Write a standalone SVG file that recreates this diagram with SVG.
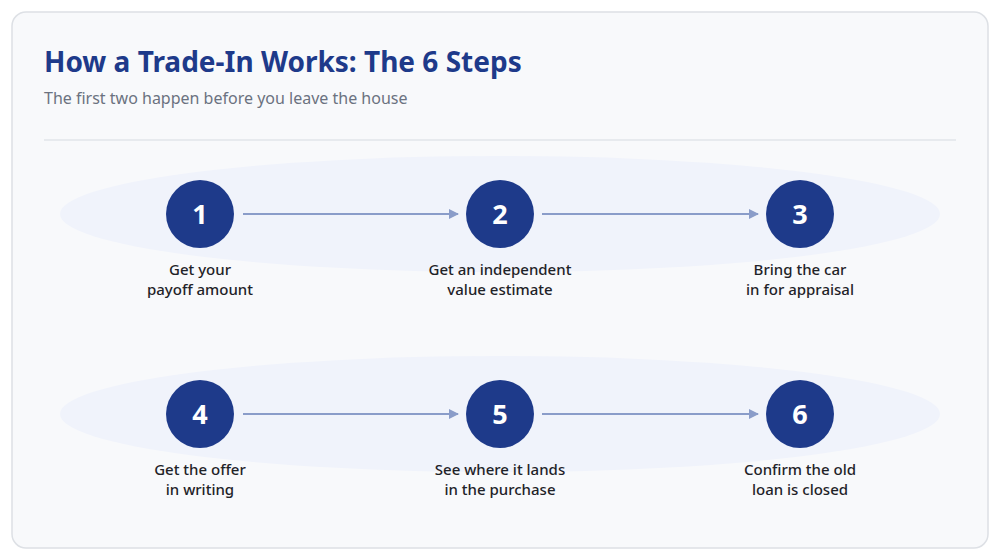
<svg xmlns="http://www.w3.org/2000/svg" width="1000" height="560" viewBox="0 0 1000 560">
<style>
.title{font-family:"Noto Sans","Open Sans",sans-serif;font-weight:700;font-size:28px;fill:#1e3a8a}
.sub{font-family:"Noto Sans","Open Sans",sans-serif;font-size:16px;fill:#6b7280}
.band{fill:#f0f3fb}
.dot{fill:#1e3a8a}
.num{font-family:"Noto Sans","Open Sans",sans-serif;font-weight:700;font-size:27px;fill:#ffffff;text-anchor:middle}
.lbl{font-family:"Noto Sans","Open Sans",sans-serif;font-weight:500;font-size:15px;fill:#1f2328;text-anchor:middle}
.conn{stroke:#8a9cc9;stroke-width:2;fill:none;marker-end:url(#ah)}
</style>
<defs>
<marker id="ah" viewBox="0 0 10 10" refX="9" refY="5" markerWidth="5" markerHeight="5" orient="auto" markerUnits="strokeWidth">
<path d="M0,0 L10,5 L0,10 z" fill="#8a9cc9"/>
</marker>
</defs>
<rect x="12" y="12" width="976" height="536" rx="14" fill="#f8f9fb" stroke="#dde0e5" stroke-width="1.5"/>
<text class="title" x="44" y="72">How a Trade-In Works: The 6 Steps</text>
<text class="sub" x="44" y="104">The first two happen before you leave the house</text>
<line x1="44" y1="140" x2="956" y2="140" stroke="#e2e5ea" stroke-width="1.5"/>
<ellipse class="band" cx="500" cy="214" rx="440" ry="58"/>
<ellipse class="band" cx="500" cy="414" rx="440" ry="58"/>
<g id="connectors">
<line class="conn" x1="243" y1="214" x2="458" y2="214"/>
<line class="conn" x1="542" y1="214" x2="758" y2="214"/>
<line class="conn" x1="243" y1="414" x2="458" y2="414"/>
<line class="conn" x1="542" y1="414" x2="758" y2="414"/>
</g>
<g id="step1"><circle class="dot" cx="200" cy="214" r="34"/><text class="num" x="200" y="224">1</text><text class="lbl" x="200" y="275">Get your</text><text class="lbl" x="200" y="295">payoff amount</text></g>
<g id="step2"><circle class="dot" cx="500" cy="214" r="34"/><text class="num" x="500" y="224">2</text><text class="lbl" x="500" y="275">Get an independent</text><text class="lbl" x="500" y="295">value estimate</text></g>
<g id="step3"><circle class="dot" cx="800" cy="214" r="34"/><text class="num" x="800" y="224">3</text><text class="lbl" x="800" y="275">Bring the car</text><text class="lbl" x="800" y="295">in for appraisal</text></g>
<g id="step4"><circle class="dot" cx="200" cy="414" r="34"/><text class="num" x="200" y="424">4</text><text class="lbl" x="200" y="475">Get the offer</text><text class="lbl" x="200" y="495">in writing</text></g>
<g id="step5"><circle class="dot" cx="500" cy="414" r="34"/><text class="num" x="500" y="424">5</text><text class="lbl" x="500" y="475">See where it lands</text><text class="lbl" x="500" y="495">in the purchase</text></g>
<g id="step6"><circle class="dot" cx="800" cy="414" r="34"/><text class="num" x="800" y="424">6</text><text class="lbl" x="800" y="475">Confirm the old</text><text class="lbl" x="800" y="495">loan is closed</text></g>
</svg>
